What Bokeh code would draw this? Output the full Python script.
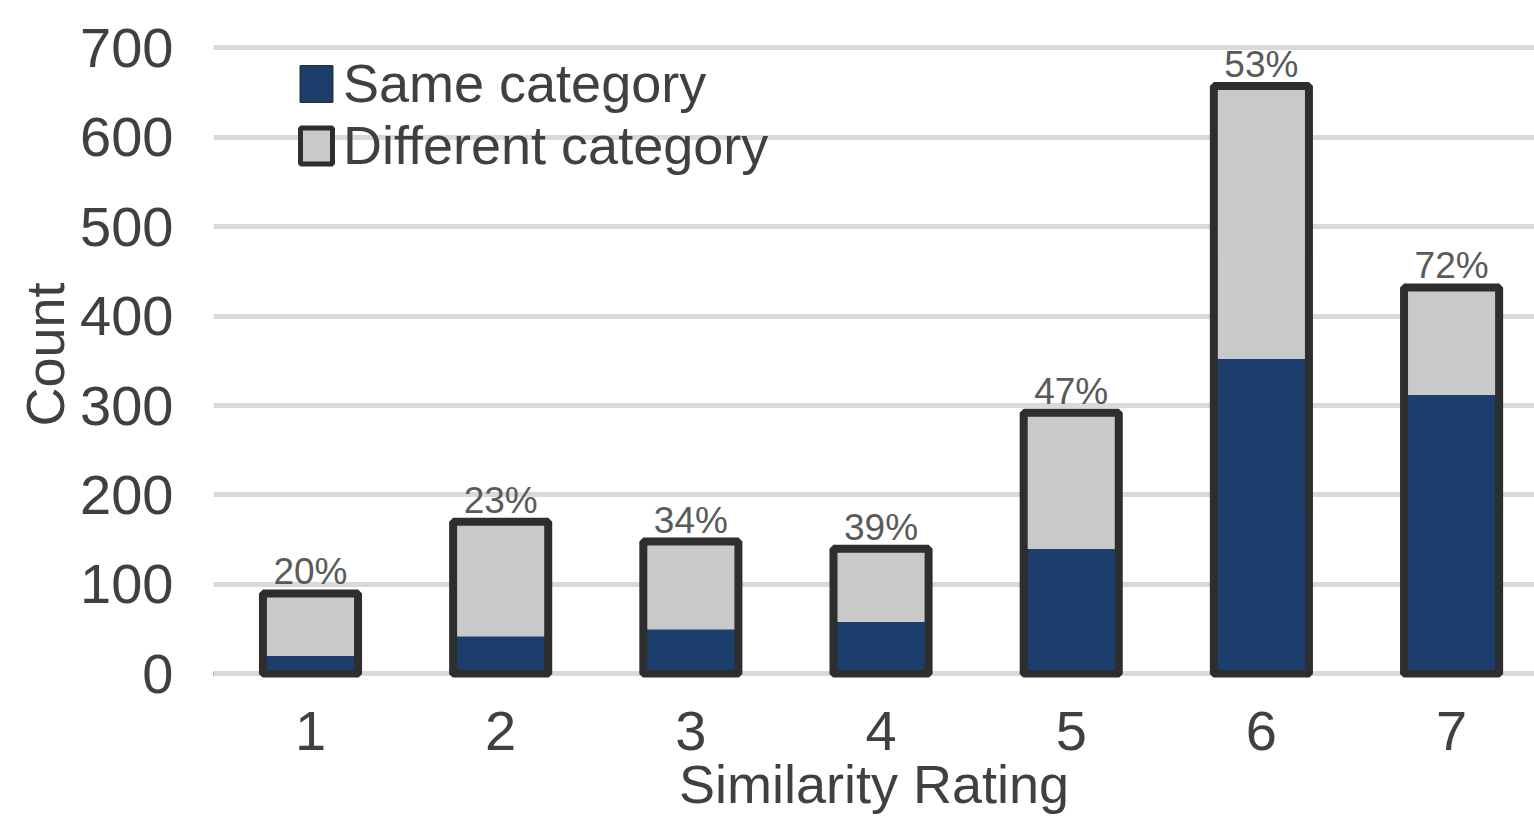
from bokeh.plotting import figure
from bokeh.models import Range1d, FixedTicker, Legend, LegendItem, ColumnDataSource
from bokeh.core.properties import value
from bokeh.embed import file_html
from bokeh.resources import INLINE

ratings = [1, 2, 3, 4, 5, 6, 7]
rating_labels = ["1", "2", "3", "4", "5", "6", "7"]
same_category = [20, 42, 50, 58, 140, 352, 312]
total_count = [90, 170, 148, 140, 292, 657, 432]
different_category = [t - s for t, s in zip(total_count, same_category)]
pct_labels = ["20%", "23%", "34%", "39%", "47%", "53%", "72%"]
y_ticks = [0, 100, 200, 300, 400, 500, 600, 700]

BLUE = "#1b3e6c"
GRAY = "#c9c9c9"
EDGE = "#2e2e2e"
TXT = "#404040"
FONT = "Liberation Sans"

src = ColumnDataSource(dict(x=ratings, same=same_category, different=different_category,
                            total=total_count, pct=pct_labels))

p = figure(width=1534, height=816, output_backend="svg", toolbar_location=None,
           x_range=Range1d(0.49, 7.436), y_range=Range1d(-4, 718),
           min_border_left=213, min_border_right=0, min_border_top=31, min_border_bottom=139)
p.outline_line_color = None
p.background_fill_color = "white"
p.border_fill_color = "white"

p.vbar_stack(["same", "different"], x="x", width=0.5, color=[BLUE, GRAY], source=src,
             line_color=None)
p.vbar(x="x", top="total", width=0.5, fill_color=None, line_color=EDGE, line_width=8,
       source=src)

p.text(x="x", y="total", text="pct", source=src, text_align="center", text_baseline="bottom",
       y_offset=-1, text_font=value(FONT), text_font_size="37px", text_color="#5a5a5a")

# legend-only renderers (a single point placed outside the visible x range)
r_same = p.vbar(x=[-5], top=[0], width=0.5, fill_color=BLUE, line_color="#26334a", line_width=2)
r_diff = p.vbar(x=[-5], top=[0], width=0.5, fill_color=GRAY, line_color=EDGE, line_width=5)
legend = Legend(items=[LegendItem(label="Same category", renderers=[r_same]),
                       LegendItem(label="Different category", renderers=[r_diff])],
                location=(83, 501), orientation="vertical")
legend.label_text_font = FONT
legend.label_text_font_size = "54px"
legend.label_text_color = TXT
legend.glyph_width = 40
legend.glyph_height = 45
legend.label_standoff = 7
legend.spacing = -3
legend.padding = 0
legend.margin = 0
legend.background_fill_alpha = 0
legend.border_line_color = None
p.add_layout(legend, "center")

# axes
p.xaxis.ticker = FixedTicker(ticks=ratings)
p.xaxis.major_label_overrides = {r: l for r, l in zip(ratings, rating_labels)}
p.yaxis.ticker = FixedTicker(ticks=y_ticks)
for ax in (p.xaxis, p.yaxis):
    ax.axis_line_color = None
    ax.major_tick_line_color = None
    ax.minor_tick_line_color = None
    ax.major_tick_out = 0
    ax.major_tick_in = 0
    ax.major_label_text_font = FONT
    ax.major_label_text_font_size = "56px"
    ax.major_label_text_color = TXT
    ax.axis_label_text_font = FONT
    ax.axis_label_text_font_size = "54px"
    ax.axis_label_text_font_style = "normal"
    ax.axis_label_text_color = TXT

p.xaxis.axis_label = "Similarity Rating"
p.yaxis.axis_label = "Count"
p.xaxis.major_label_standoff = 34
p.xaxis.axis_label_standoff = 1
p.yaxis.major_label_standoff = 40
p.yaxis.axis_label_standoff = 2

p.xgrid.grid_line_color = None
p.ygrid.ticker = FixedTicker(ticks=y_ticks)
p.ygrid.grid_line_color = "#d9d9d9"
p.ygrid.grid_line_width = 5

open("out.html", "w").write(file_html(p, INLINE))
